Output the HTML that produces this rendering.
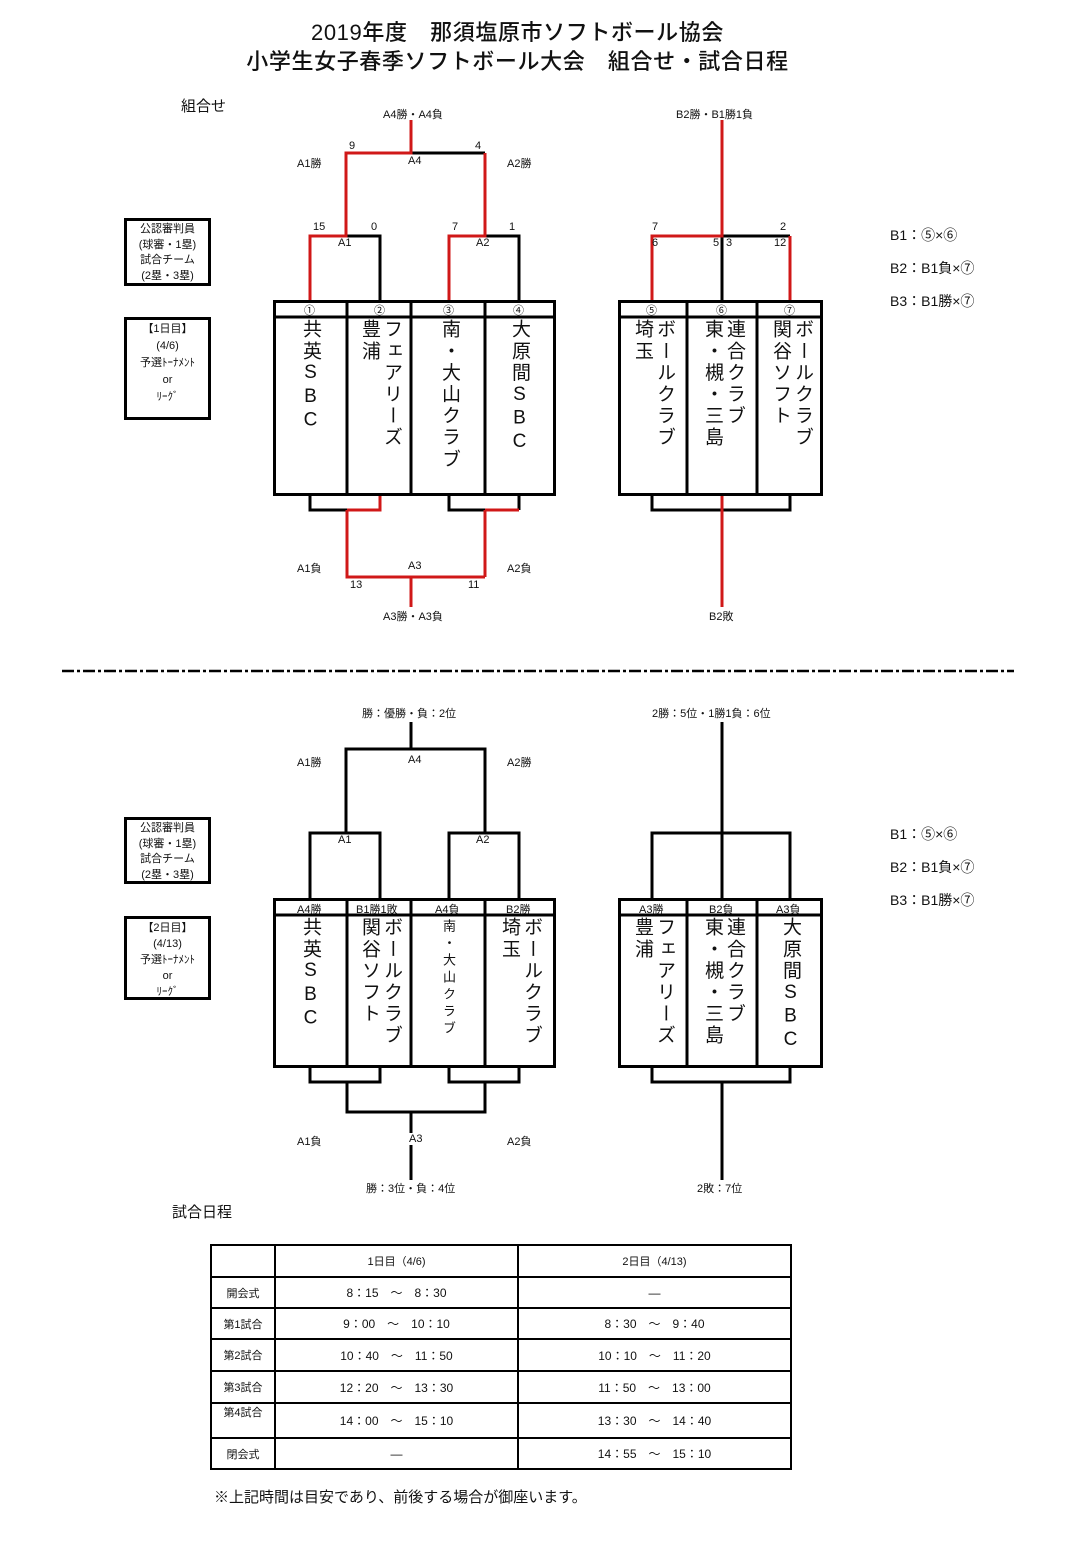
<!DOCTYPE html>
<html><head><meta charset="utf-8"><style>
body{margin:0;background:#fff;}
#p{position:relative;width:1080px;height:1554px;background:#fff;font-family:"Liberation Sans","Noto Sans CJK JP",sans-serif;color:#111;overflow:hidden}
.a{position:absolute;white-space:nowrap}
.t{font-size:22px;left:0;width:1035px;text-align:center;letter-spacing:0.6px;font-weight:500}
.s{font-size:11px}
.v{position:absolute;writing-mode:vertical-rl;text-orientation:upright;font-size:19px;line-height:22px;letter-spacing:2.6px;font-weight:normal}
.box{position:absolute;border:3px solid #000;box-sizing:border-box;text-align:center;font-size:11px;line-height:15.5px}
table{position:absolute;left:210px;top:1244px;border-collapse:collapse;font-size:12px}
td{border:2px solid #000;text-align:center;padding:0}
.h{font-size:11px}
</style></head><body><div id="p">
<div class="a t" style="top:15px">2019年度　那須塩原市ソフトボール協会</div>
<div class="a t" style="top:44px">小学生女子春季ソフトボール大会　組合せ・試合日程</div>
<div class="a" style="left:181px;top:95px;font-size:15px">組合せ</div>
<div class="a" style="left:172px;top:1201px;font-size:15px">試合日程</div>

<svg class="a" style="left:0;top:0" width="1080" height="1554">
<g fill="none" stroke-width="3" stroke="#000">
<path d="M380 301V236H346 M519 301V236H485 M411 153H485"/>
<path d="M722 301V236H790"/>
<path stroke="#d01818" d="M310 301V236H346V153H411V120 M449 301V236H485V153 M652 301V236H722V120 M790 236V301"/>
<path d="M310 494V510H347 M449 494V510H485 M519 494V510 M652 494V510H790V494"/>
<path stroke="#d01818" d="M347 510H380V494 M347 510V577H485 M411 577V607 M485 510H519 M485 510V577 M722 494V607"/>
<path d="M310 899V833H380V899 M346 833V749H485V833 M449 899V833H519V899 M411 749V722"/>
<path d="M652 899V833H790V899 M722 899V833 M722 833V722"/>
<path d="M310 1066V1082H380V1066 M449 1066V1082H519V1066 M347 1082V1112H485V1082 M411 1112V1180 M652 1066V1082H790V1066 M722 1082V1180"/>
<rect x="274.5" y="301.5" width="280" height="193"/><path d="M274 317H555 M347 301V494 M411 301V494 M485 301V494"/>
<rect x="619.5" y="301.5" width="202" height="193"/><path d="M619 317H822 M687 301V494 M757 301V494"/>
<rect x="274.5" y="899.5" width="280" height="167"/><path d="M274 915H555 M347 899V1066 M411 899V1066 M485 899V1066"/>
<rect x="619.5" y="899.5" width="202" height="167"/><path d="M619 915H822 M687 899V1066 M757 899V1066"/>
</g>
<path d="M62 671H1014" stroke="#000" stroke-width="2.5" stroke-dasharray="12 3 3 3"/>
</svg>

<div class="a s" style="left:383px;top:106px">A4勝・A4負</div>
<div class="a s" style="left:676px;top:106px">B2勝・B1勝1負</div>
<div class="a s" style="left:349px;top:140px">9</div><div class="a s" style="left:475px;top:140px">4</div>
<div class="a s" style="left:297px;top:155px">A1勝</div><div class="a s" style="left:408px;top:155px">A4</div><div class="a s" style="left:507px;top:155px">A2勝</div>
<div class="a s" style="left:313px;top:221px">15</div><div class="a s" style="left:371px;top:221px">0</div><div class="a s" style="left:452px;top:221px">7</div><div class="a s" style="left:509px;top:221px">1</div>
<div class="a s" style="left:338px;top:237px">A1</div><div class="a s" style="left:476px;top:237px">A2</div>
<div class="a s" style="left:652px;top:221px">7</div><div class="a s" style="left:780px;top:221px">2</div>
<div class="a s" style="left:652px;top:237px">6</div><div class="a s" style="left:713px;top:237px">5</div><div class="a s" style="left:726px;top:237px">3</div><div class="a s" style="left:774px;top:237px">12</div>
<div class="a" style="left:890px;top:225px;font-size:14px">B1：⑤×⑥</div>
<div class="a" style="left:890px;top:258px;font-size:14px">B2：B1負×⑦</div>
<div class="a" style="left:890px;top:291px;font-size:14px">B3：B1勝×⑦</div>
<div class="a s" style="left:304px;top:302px">①</div><div class="a s" style="left:374px;top:302px">②</div><div class="a s" style="left:443px;top:302px">③</div><div class="a s" style="left:513px;top:302px">④</div>
<div class="a s" style="left:646px;top:302px">⑤</div><div class="a s" style="left:716px;top:302px">⑥</div><div class="a s" style="left:784px;top:302px">⑦</div>
<div class="v" style="left:299px;top:319px">共英SBC</div>
<div class="v" style="left:358px;top:319px">フェアリーズ<br>豊浦</div>
<div class="v" style="left:438px;top:319px">南・大山クラブ</div>
<div class="v" style="left:508px;top:319px">大原間SBC</div>
<div class="v" style="left:631px;top:319px">ボールクラブ<br>埼玉</div>
<div class="v" style="left:701px;top:319px">連合クラブ<br>東・槻・三島</div>
<div class="v" style="left:769px;top:319px">ボールクラブ<br>関谷ソフト</div>
<div class="a s" style="left:297px;top:560px">A1負</div><div class="a s" style="left:408px;top:560px">A3</div><div class="a s" style="left:507px;top:560px">A2負</div>
<div class="a s" style="left:350px;top:579px">13</div><div class="a s" style="left:468px;top:579px">11</div>
<div class="a s" style="left:383px;top:608px">A3勝・A3負</div><div class="a s" style="left:709px;top:608px">B2敗</div>
<div class="box" style="left:124px;top:218px;width:87px;height:68px;padding-top:1px">公認審判員<br>(球審・1塁)<br>試合チーム<br>(2塁・3塁)</div>
<div class="box" style="left:124px;top:317px;width:87px;height:103px;padding-top:1px;line-height:17px">【1日目】<br>(4/6)<br>予選ﾄｰﾅﾒﾝﾄ<br>or<br>ﾘｰｸﾞ</div>

<div class="a s" style="left:362px;top:705px">勝：優勝・負：2位</div>
<div class="a s" style="left:652px;top:705px">2勝：5位・1勝1負：6位</div>
<div class="a s" style="left:297px;top:754px">A1勝</div><div class="a s" style="left:408px;top:754px">A4</div><div class="a s" style="left:507px;top:754px">A2勝</div>
<div class="a s" style="left:338px;top:834px">A1</div><div class="a s" style="left:476px;top:834px">A2</div>
<div class="a" style="left:890px;top:824px;font-size:14px">B1：⑤×⑥</div>
<div class="a" style="left:890px;top:857px;font-size:14px">B2：B1負×⑦</div>
<div class="a" style="left:890px;top:890px;font-size:14px">B3：B1勝×⑦</div>
<div class="a s" style="left:297px;top:901px">A4勝</div><div class="a s" style="left:356px;top:901px">B1勝1敗</div><div class="a s" style="left:435px;top:901px">A4負</div><div class="a s" style="left:506px;top:901px">B2勝</div>
<div class="a s" style="left:639px;top:901px">A3勝</div><div class="a s" style="left:709px;top:901px">B2負</div><div class="a s" style="left:776px;top:901px">A3負</div>
<div class="v" style="left:299px;top:917px">共英SBC</div>
<div class="v" style="left:358px;top:917px">ボールクラブ<br>関谷ソフト</div>
<div class="v" style="left:441px;top:919px;font-size:13px;line-height:15px;letter-spacing:4px">南・大山クラブ</div>
<div class="v" style="left:498px;top:917px">ボールクラブ<br>埼玉</div>
<div class="v" style="left:631px;top:917px">フェアリーズ<br>豊浦</div>
<div class="v" style="left:701px;top:917px">連合クラブ<br>東・槻・三島</div>
<div class="v" style="left:779px;top:917px">大原間SBC</div>
<div class="a s" style="left:297px;top:1133px">A1負</div><div class="a s" style="left:409px;top:1133px;background:#fff">A3</div><div class="a s" style="left:507px;top:1133px">A2負</div>
<div class="a s" style="left:366px;top:1180px">勝：3位・負：4位</div><div class="a s" style="left:697px;top:1180px">2敗：7位</div>
<div class="box" style="left:124px;top:817px;width:87px;height:67px;padding-top:1px">公認審判員<br>(球審・1塁)<br>試合チーム<br>(2塁・3塁)</div>
<div class="box" style="left:124px;top:916px;width:87px;height:84px;padding-top:1px;line-height:16px">【2日目】<br>(4/13)<br>予選ﾄｰﾅﾒﾝﾄ<br>or<br>ﾘｰｸﾞ</div>

<table>
<tr style="height:32px"><td style="width:62px"></td><td style="width:241px" class="h">1日目（4/6)</td><td style="width:271px" class="h">2日目（4/13)</td></tr>
<tr style="height:31px"><td class="h">開会式</td><td>8：15　～　8：30</td><td>―</td></tr>
<tr style="height:31px"><td class="h">第1試合</td><td>9：00　～　10：10</td><td>8：30　～　9：40</td></tr>
<tr style="height:32px"><td class="h">第2試合</td><td>10：40　～　11：50</td><td>10：10　～　11：20</td></tr>
<tr style="height:32px"><td class="h">第3試合</td><td>12：20　～　13：30</td><td>11：50　～　13：00</td></tr>
<tr style="height:35px"><td class="h" style="vertical-align:top">第4試合</td><td>14：00　～　15：10</td><td>13：30　～　14：40</td></tr>
<tr style="height:31px"><td class="h">閉会式</td><td>―</td><td>14：55　～　15：10</td></tr>
</table>
<div class="a" style="left:214px;top:1486px;font-size:15px">※上記時間は目安であり、前後する場合が御座います。</div>
</div></body></html>
